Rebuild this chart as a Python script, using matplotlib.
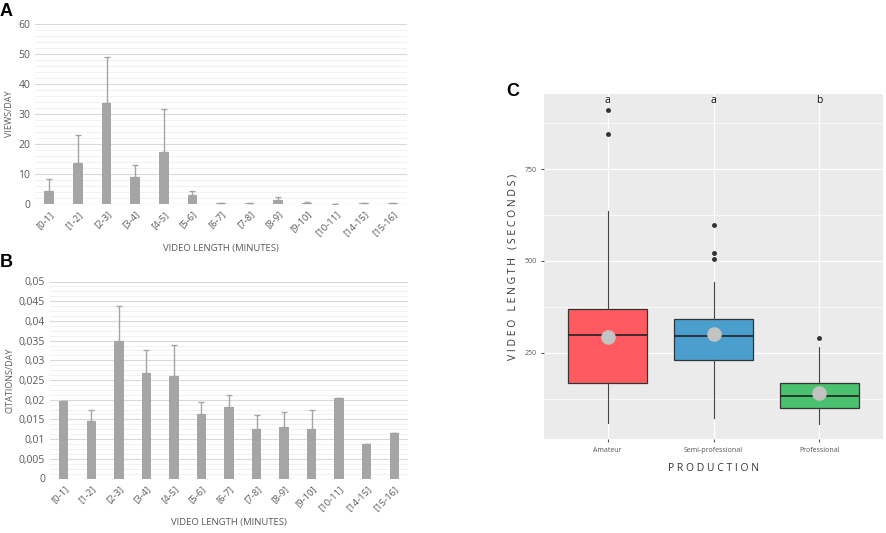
import matplotlib.pyplot as plt
import numpy as np

# data
cats = ["[0-1]", "[1-2]", "[2-3]", "[3-4]", "[4-5]", "[5-6]", "[6-7]", "[7-8]",
        "[8-9]", "[9-10]", "[10-11]", "[14-15]", "[15-16]"]
views = [4.3, 13.8, 33.6, 9.0, 17.4, 3.0, 0.3, 0.4, 1.4, 0.4, 0.1, 0.3, 0.2]
views_err = [4.0, 9.3, 15.5, 4.1, 14.4, 1.5, 0, 0, 1.1, 0.2, 0, 0, 0]
cites = [0.0197, 0.0147, 0.0348, 0.0269, 0.0260, 0.0163, 0.0181, 0.0125,
         0.0131, 0.0125, 0.0205, 0.0087, 0.0116]
cites_err = [0, 0.0028, 0.0091, 0.0056, 0.0080, 0.0030, 0.0032, 0.0036,
             0.0039, 0.0048, 0, 0, 0]

groups = ["Amateur", "Semi-professional", "Professional"]
q1 = [168, 231, 100]
med = [299, 297, 133]
q3 = [369, 341, 168]
wlo = [59, 71, 56]
whi = [637, 444, 266]
means = [294, 302, 141]
outliers = [[911, 845], [598, 521, 505], [290]]
letters = ["a", "a", "b"]
box_cols = ["#FF5A5F", "#4B9FCE", "#4BC06E"]

W, H = 886, 533
fig = plt.figure(figsize=(W / 100, H / 100), dpi=100)
plt.rcParams['font.family'] = ['Open Sans', 'DejaVu Sans']

def px_axes(x0, y0, x1, y1):
    return fig.add_axes([x0 / W, 1 - y1 / H, (x1 - x0) / W, (y1 - y0) / H])

txtc = "#595959"

def bar_panel(ax, vals, errs, ymax, major, minor, ylabel, fmt):
    x = np.arange(len(cats))
    ax.bar(x, vals, width=0.34, color="#A5A5A5", zorder=3)
    ax.errorbar(x, vals, yerr=[np.zeros(len(errs)), errs], fmt="none",
                ecolor="#A5A5A5", elinewidth=1, capsize=2.5, capthick=1, zorder=3)
    ax.set_xlim(-0.5, len(cats) - 0.5)
    ax.set_ylim(0, ymax)
    ax.set_yticks(np.arange(0, ymax + major / 2, major))
    ax.set_yticks(np.arange(0, ymax + minor / 2, minor), minor=True)
    ax.yaxis.set_major_formatter(plt.FuncFormatter(fmt))
    ax.grid(axis="y", which="major", color="#D9D9D9", lw=0.8, zorder=0)
    ax.grid(axis="y", which="minor", color="#EFEFEF", lw=0.6, zorder=0)
    ax.set_xticks(x)
    ax.set_xticklabels(cats, rotation=45, ha="right", rotation_mode="anchor",
                       fontsize=6.8, color=txtc)
    ax.tick_params(axis="y", which="both", length=0, labelsize=7.5, labelcolor=txtc)
    ax.tick_params(axis="x", length=0, pad=4)
    for s in ax.spines.values():
        s.set_visible(False)
    ax.axhline(0, color="#D9D9D9", lw=0.8, zorder=2)
    ax.set_ylabel(ylabel, fontsize=6.5, color=txtc, labelpad=3)
    ax.set_xlabel("VIDEO LENGTH (MINUTES)", fontsize=6.8, color=txtc, labelpad=4)

axA = px_axes(35, 24, 407, 204)
bar_panel(axA, views, views_err, 60, 10, 2, "VIEWS/DAY", lambda v, p: f"{v:.0f}")

axB = px_axes(50, 281.5, 408, 478.5)
bar_panel(axB, cites, cites_err, 0.05, 0.005, 0.00125, "CITATIONS/DAY",
          lambda v, p: ("0" if abs(v) < 1e-9 else f"{v:.3f}".rstrip("0").replace(".", ",")))

# panel C
axC = px_axes(544, 94, 883, 439)
axC.set_facecolor("#EBEBEB")
axC.set_xlim(0.4, 3.6)
axC.set_ylim(15, 955)
axC.set_yticks([250, 500, 750])
axC.set_yticks([125, 375, 625, 875], minor=True)
axC.grid(which="major", color="white", lw=0.9, zorder=0)
axC.grid(which="minor", axis="y", color="white", lw=0.5, zorder=0)
stats = []
for i in range(3):
    stats.append(dict(med=med[i], q1=q1[i], q3=q3[i], whislo=wlo[i],
                      whishi=whi[i], fliers=outliers[i], label=groups[i]))
bp = axC.bxp(stats, positions=[1, 2, 3], widths=0.75, patch_artist=True,
             showcaps=False, zorder=3,
             boxprops=dict(edgecolor="#333333", lw=0.9),
             medianprops=dict(color="#222222", lw=1.2),
             whiskerprops=dict(color="#444444", lw=0.8),
             flierprops=dict(marker="o", markersize=2.5, markerfacecolor="#333333",
                             markeredgecolor="#333333"))
for patch, c in zip(bp["boxes"], box_cols):
    patch.set_facecolor(c)
axC.scatter([1, 2, 3], means, s=90, color="#C3C3C3", zorder=5)
for i, l in enumerate(letters):
    axC.text(i + 1, 937, l, ha="center", va="center", fontsize=7.5, color="#111111")
axC.set_xticks([1, 2, 3])
axC.set_xticklabels(groups, fontsize=5, color="#555555")
axC.tick_params(axis="y", labelsize=5, labelcolor="#555555", length=2, color="#555555")
axC.tick_params(axis="y", which="minor", length=0)
axC.tick_params(axis="x", length=2, color="#555555")
for s in axC.spines.values():
    s.set_visible(False)
axC.set_ylabel("V I D E O   L E N G T H   ( S E C O N D S )", fontsize=7.5,
               color="#333333", labelpad=4)
axC.set_xlabel("P R O D U C T I O N", fontsize=7.5, color="#333333", labelpad=7)

# panel letters
for lab, xp, yp in [("A", 0, 11), ("B", 0, 263), ("C", 506, 92)]:
    fig.text(xp / W, 1 - yp / H, lab, fontsize=13, fontweight="bold", va="center",
             family="Liberation Sans")

fig.savefig("out.png", dpi=100)
